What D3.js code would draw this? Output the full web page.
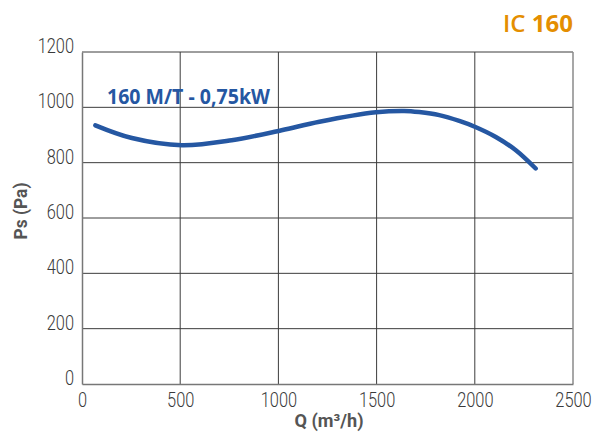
<!DOCTYPE html>
<html>
<head>
<meta charset="utf-8">
<script src="https://cdn.jsdelivr.net/npm/d3@7"></script>
<style>
  body { margin: 0; background: #fff; }
  .tick text { font-family: Roboto, "Open Sans", sans-serif; font-weight: 300; font-size: 20px; fill: #3a3a3a; }
</style>
</head>
<body>
<div id="chart"></div>
<script>
// Curve: Q (m³/h) vs Ps (Pa)
const flow = [68, 254, 508, 762, 1016, 1209, 1497, 1640, 1717, 1819, 1921, 2000, 2107, 2209, 2310];
const pressure = [935, 889, 863, 881, 917, 948, 982, 987, 983, 972, 951, 930, 893, 845, 779];
const xTicks = [0, 500, 1000, 1500, 2000, 2500];
const yTicks = [0, 200, 400, 600, 800, 1000, 1200];

const margin = { top: 52, right: 30, bottom: 51, left: 82 };
const width = 603 - margin.left - margin.right;
const height = 435 - margin.top - margin.bottom;
const squeeze = 0.82; // narrow the tick labels like the condensed original

const x = d3.scaleLinear().domain([0, 2500]).range([0, width]);
const y = d3.scaleLinear().domain([0, 1200]).range([height, 0]);

const svg = d3.select("#chart").append("svg")
    .attr("width", 603)
    .attr("height", 435)
  .append("g")
    .attr("transform", `translate(${margin.left},${margin.top})`);

// Grid lines
svg.append("g")
    .selectAll("line")
    .data(yTicks.slice(1))
    .join("line")
    .attr("x1", 0).attr("x2", width)
    .attr("y1", d => y(d)).attr("y2", d => y(d))
    .attr("stroke", "#3c3c3c").attr("stroke-width", 1);

svg.append("g")
    .selectAll("line")
    .data(xTicks.slice(1, -1))
    .join("line")
    .attr("x1", d => x(d)).attr("x2", d => x(d))
    .attr("y1", 0).attr("y2", height)
    .attr("stroke", "#3c3c3c").attr("stroke-width", 1);

// Right border, lighter
svg.append("line")
    .attr("x1", width).attr("x2", width)
    .attr("y1", 0).attr("y2", height)
    .attr("stroke", "#8a8a8a").attr("stroke-width", 1.5);

// Axes
const xAxis = svg.append("g")
    .attr("transform", `translate(0,${height})`)
    .call(d3.axisBottom(x).tickValues(xTicks).tickFormat(d3.format("d")).tickSize(0));
xAxis.select(".domain").attr("stroke", "#777").attr("stroke-width", 1.5);
xAxis.selectAll(".tick text")
    .attr("y", 23)
    .attr("dy", 0)
    .attr("transform", `scale(${squeeze},1)`);

const yAxis = svg.append("g")
    .call(d3.axisLeft(y).tickValues(yTicks).tickFormat(d3.format("d")).tickSize(0));
yAxis.select(".domain").attr("stroke", "#777").attr("stroke-width", 1.5);
yAxis.selectAll(".tick text")
    .attr("x", -8 / squeeze)
    .attr("dy", "0.02em")
    .attr("transform", `scale(${squeeze},1)`);

// Axis titles
svg.append("text")
    .attr("x", 247)
    .attr("y", height + 43)
    .attr("text-anchor", "middle")
    .attr("textLength", 69)
    .attr("lengthAdjust", "spacingAndGlyphs")
    .style("font-family", "Roboto, 'Open Sans', sans-serif")
    .style("font-size", "18px")
    .style("font-weight", "bold")
    .style("fill", "#555")
    .text("Q (m³/h)");

svg.append("text")
    .attr("transform", `translate(${-55},${159}) rotate(-90)`)
    .attr("text-anchor", "middle")
    .attr("textLength", 57)
    .attr("lengthAdjust", "spacingAndGlyphs")
    .style("font-family", "Roboto, 'Open Sans', sans-serif")
    .style("font-size", "18px")
    .style("font-weight", "bold")
    .style("fill", "#555")
    .text("Ps (Pa)");

// Fan curve
const data = flow.map((q, i) => ({ q: q, p: pressure[i] }));
const line = d3.line()
    .x(d => x(d.q))
    .y(d => y(d.p))
    .curve(d3.curveCatmullRom.alpha(0.5));

svg.append("path")
    .datum(data)
    .attr("fill", "none")
    .attr("stroke", "#2557a2")
    .attr("stroke-width", 4.5)
    .attr("stroke-linecap", "round")
    .attr("d", line);

// Curve label
svg.append("text")
    .attr("x", 25)
    .attr("y", 52)
    .attr("textLength", 163)
    .attr("lengthAdjust", "spacingAndGlyphs")
    .style("font-family", "'Open Sans', sans-serif")
    .style("font-size", "21px")
    .style("font-weight", "bold")
    .style("fill", "#2557a2")
    .text("160 M/T - 0,75kW");

// Model title
const title = d3.select("svg").append("text")
    .attr("x", 573)
    .attr("y", 32)
    .attr("text-anchor", "end")
    .style("font-family", "'Open Sans', sans-serif")
    .style("font-size", "24px")
    .style("fill", "#e48e00");
title.append("tspan").style("font-weight", 600).text("IC ");
title.append("tspan").style("font-weight", "bold").text("160");
</script>
</body>
</html>
